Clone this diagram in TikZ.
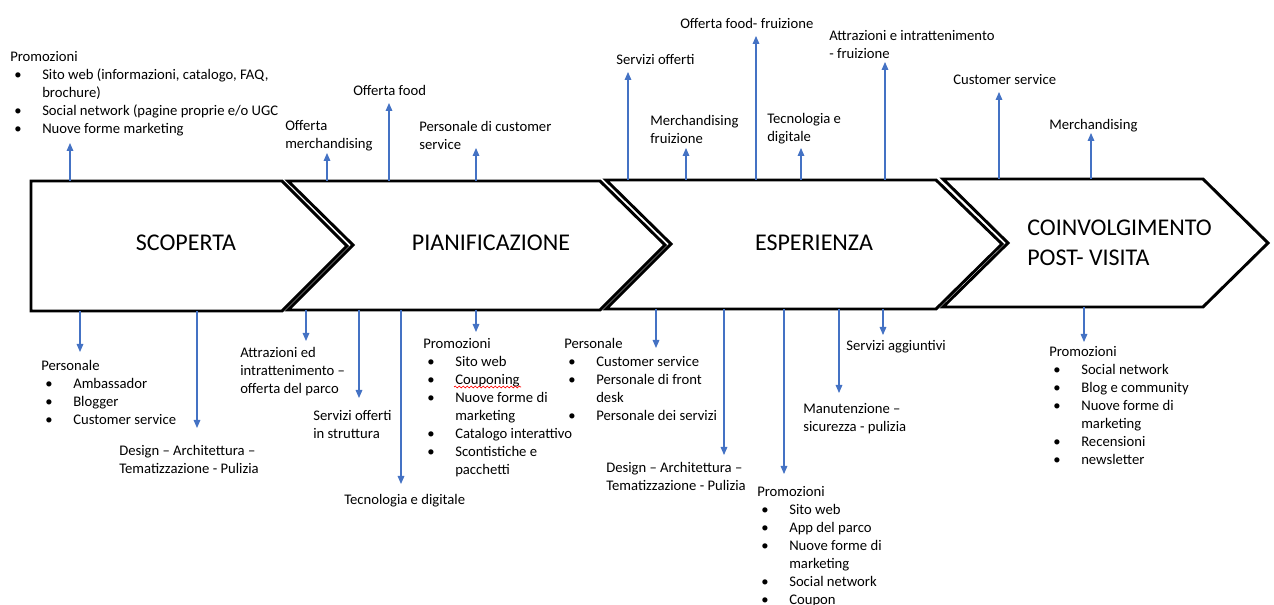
\documentclass[tikz,border=0pt]{standalone}
\usepackage{fontspec}
\setmainfont{Carlito}
\usetikzlibrary{arrows.meta,decorations.pathmorphing}
\definecolor{arrblue}{HTML}{4472C4}
\newcommand{\bitem}{\hspace*{3pt}\makebox[21pt][l]{\textbullet}}
\newcommand{\bcont}{\hspace*{24pt}}

\begin{document}
\begin{tikzpicture}[x=0.75pt,y=-0.75pt,
    chev/.style={draw=black,line width=2.2pt,line join=miter,fill=white},
    lbl/.style={anchor=north west,yshift=6.8pt,inner sep=0pt,align=left,
      font=\fontsize{11}{13.5}\selectfont,execute at begin node={\strut}},
    phase/.style={inner sep=0pt,font=\fontsize{18}{22.5}\selectfont},
    link/.style={draw=arrblue,line width=0.8pt,-{Triangle[length=6pt,width=5pt]}}]
        \useasboundingbox (0,0) rectangle (1274,605);
        % chevrons
        \draw[chev] (31,181) -- (282,181) -- (347,246) -- (282,311) -- (31,311) -- cycle;
        \draw[chev] (288,181) -- (600,181) -- (665,245) -- (600,310) -- (288,310) -- (353,245) -- cycle;
        \draw[chev] (606,180) -- (936,180) -- (1002,244) -- (936,309) -- (606,309) -- (671,244) -- cycle;
        \draw[chev] (943,179) -- (1203,179) -- (1268,243) -- (1203,307) -- (943,307) -- (1008,243) -- cycle;
        \node[phase] (scoperta) at (186,243) {SCOPERTA};
        \node[phase] (pianif) at (491,243) {PIANIFICAZIONE};
        \node[phase] (esperienza) at (814,243) {ESPERIENZA};
        \node[phase,anchor=west,align=left] (postvisita) at (1027,243) {COINVOLGIMENTO\\POST- VISITA};

        % labels above (positions are first baselines)
        \node[lbl] (sPromo) at (10,60) {Promozioni\\
          \bitem Sito web (informazioni, catalogo, FAQ,\\
          \bcont brochure)\\
          \bitem Social network (pagine proprie e/o UGC\\
          \bitem Nuove forme marketing};
        \node[lbl] (pMerch) at (285,129) {Offerta\\merchandising};
        \node[lbl] (pFood) at (353,92) {Offerta food};
        \node[lbl] (pCust) at (419,130) {Personale di customer\\service};
        \node[lbl] (eServ) at (616,61) {Servizi offerti};
        \node[lbl] (eMerch) at (650,124) {Merchandising\\fruizione};
        \node[lbl] (eFood) at (680,25) {Offerta food- fruizione};
        \node[lbl] (eTech) at (767,122) {Tecnologia e\\digitale};
        \node[lbl] (eAttr) at (829,39) {Attrazioni e intrattenimento\\- fruizione};
        \node[lbl] (cCust) at (953,81) {Customer service};
        \node[lbl] (cMerch) at (1049,126) {Merchandising};

        % labels below
        \node[lbl] (sPers) at (41,369) {Personale\\
          \bitem Ambassador\\
          \bitem Blogger\\
          \bitem Customer service};
        \node[lbl] (sDesign) at (119,454) {Design -- Architettura --\\Tematizzazione - Pulizia};
        \node[lbl] (pAttr) at (240,356) {Attrazioni ed\\intrattenimento --\\offerta del parco};
        \node[lbl] (pServ) at (313,419) {Servizi offerti\\in struttura};
        \node[lbl] (pTech) at (344,501) {Tecnologia e digitale};
        \node[lbl] (pPromo) at (423,347) {Promozioni\\
          \bitem Sito web\\
          \bitem Couponing\\
          \bitem Nuove forme di\\
          \bcont marketing\\
          \bitem Catalogo interattivo\\
          \bitem Scontistiche e\\
          \bcont pacchetti};
        \draw[red,line width=0.5pt,decorate,decoration={snake,amplitude=0.7pt,segment length=3pt}] (454,387) -- (521,387);
        \node[lbl] (ePers) at (564,347) {Personale\\
          \bitem Customer service\\
          \bitem Personale di front\\
          \bcont desk\\
          \bitem Personale dei servizi};
        \node[lbl] (eDesign) at (606,471) {Design -- Architettura --\\Tematizzazione - Pulizia};
        \node[lbl] (ePromo) at (757,495) {Promozioni\\
          \bitem Sito web\\
          \bitem App del parco\\
          \bitem Nuove forme di\\
          \bcont marketing\\
          \bitem Social network\\
          \bitem Coupon};
        \node[lbl] (eManut) at (803,412) {Manutenzione --\\sicurezza - pulizia};
        \node[lbl] (eAgg) at (846,347) {Servizi aggiuntivi};
        \node[lbl] (cPromo) at (1049,355) {Promozioni\\
          \bitem Social network\\
          \bitem Blog e community\\
          \bitem Nuove forme di\\
          \bcont marketing\\
          \bitem Recensioni\\
          \bitem newsletter};

        % arrows up
        \coordinate (u1) at (70,181);   \coordinate (v1) at (70,143);
        \coordinate (u2) at (327,181);  \coordinate (v2) at (327,153);
        \coordinate (u3) at (389,181);  \coordinate (v3) at (389,103);
        \coordinate (u4) at (476,181);  \coordinate (v4) at (476,148);
        \coordinate (u5) at (628,180);  \coordinate (v5) at (628,72);
        \coordinate (u6) at (686,180);  \coordinate (v6) at (686,148);
        \coordinate (u7) at (756,180);  \coordinate (v7) at (756,36);
        \coordinate (u8) at (801,180);  \coordinate (v8) at (801,148);
        \coordinate (u9) at (885,180);  \coordinate (v9) at (885,62);
        \coordinate (u10) at (999,179); \coordinate (v10) at (999,92);
        \coordinate (u11) at (1091,179); \coordinate (v11) at (1091,133);
        \foreach \i in {1,...,11}
          \draw[link] (u\i) -- (v\i);

        % arrows down
        \coordinate (d1) at (80,311);   \coordinate (e1) at (80,352);
        \coordinate (d2) at (197,311);  \coordinate (e2) at (197,428);
        \coordinate (d3) at (306,310);  \coordinate (e3) at (306,341);
        \coordinate (d4) at (359,310);  \coordinate (e4) at (359,398);
        \coordinate (d5) at (401,310);  \coordinate (e5) at (401,484);
        \coordinate (d6) at (476,310);  \coordinate (e6) at (476,332);
        \coordinate (d7) at (656,309);  \coordinate (e7) at (656,348);
        \coordinate (d8) at (724,309);  \coordinate (e8) at (724,455);
        \coordinate (d9) at (784,309);  \coordinate (e9) at (784,474);
        \coordinate (d10) at (839,309); \coordinate (e10) at (839,393);
        \coordinate (d11) at (883,309); \coordinate (e11) at (883,335);
        \coordinate (d12) at (1084,307); \coordinate (e12) at (1084,342);
        \foreach \i in {1,...,12}
          \draw[link] (d\i) -- (e\i);
\end{tikzpicture}
\end{document}
